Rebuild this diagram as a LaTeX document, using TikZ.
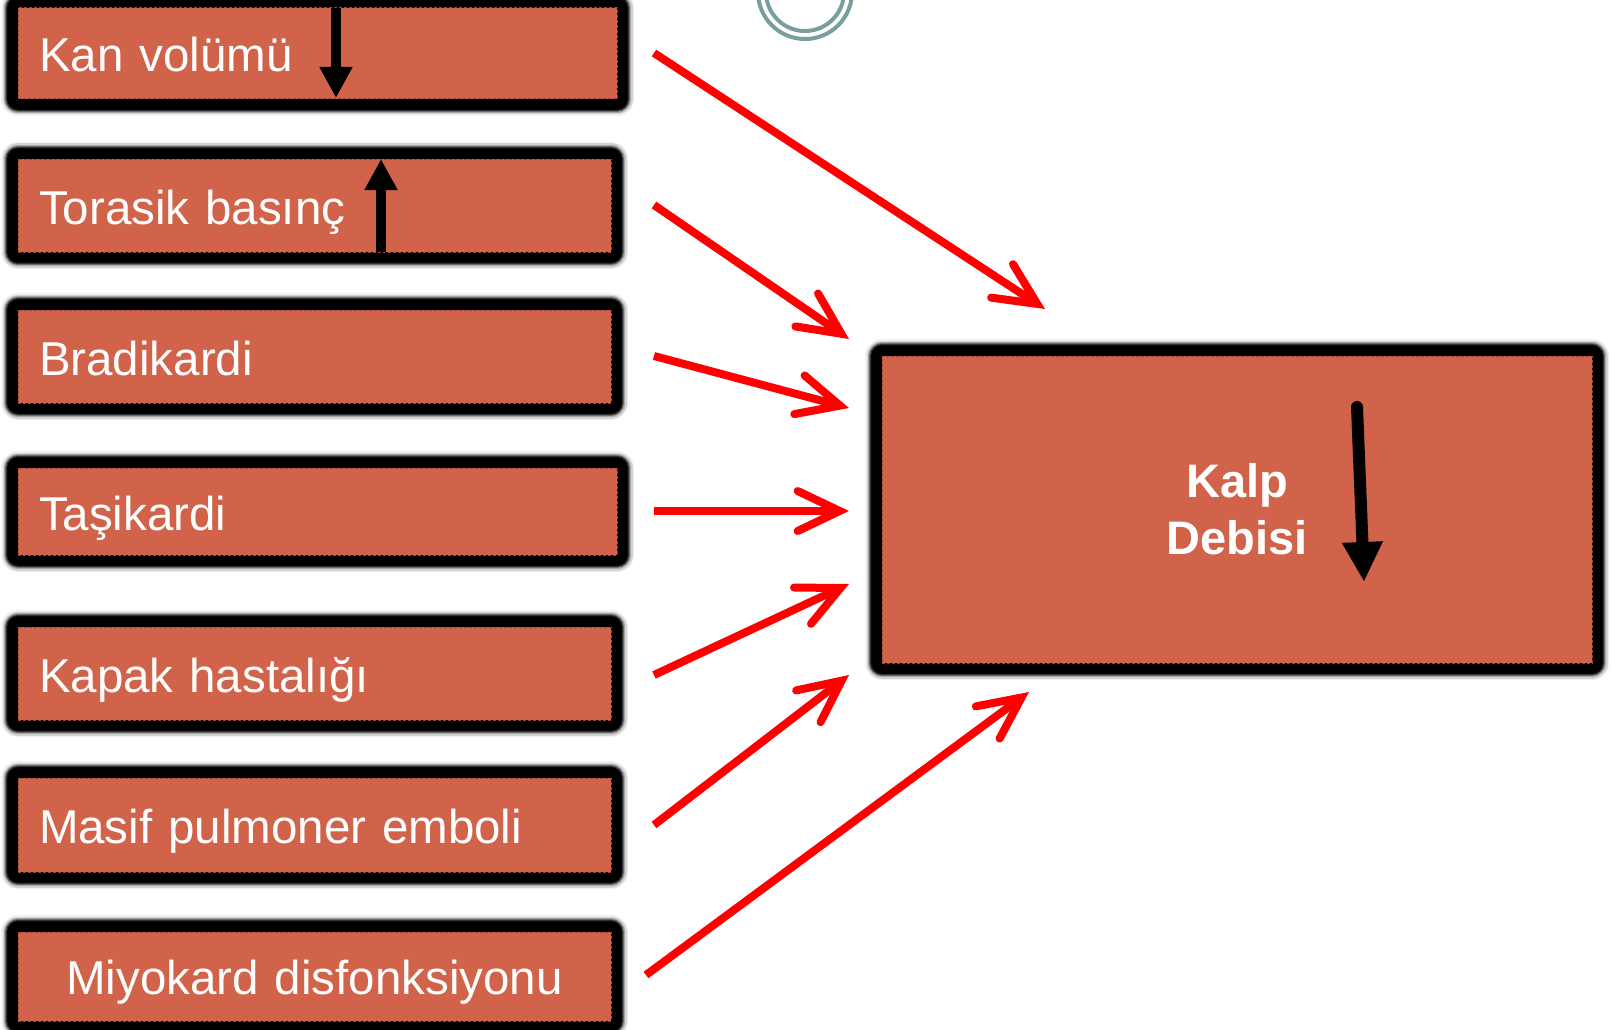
\documentclass[tikz,border=0pt]{standalone}
\usepackage{fontspec}
\setmainfont{Liberation Sans}
\usetikzlibrary{arrows.meta}
\definecolor{boxfill}{HTML}{D06349}
\definecolor{boxedge}{HTML}{9C4430}
\definecolor{ringc}{HTML}{7A9E9C}
\definecolor{arrred}{HTML}{FF0000}
\tikzset{
  framed/.style={rectangle, fill=boxfill, draw=boxedge, line width=1pt,
    dash pattern=on 3pt off 2pt, inner ysep=0pt,
    preaction={draw=black, opacity=0.06, line width=34pt, line join=round, solid},
    preaction={draw=black, opacity=0.12, line width=31pt, line join=round, solid},
    preaction={draw=black, opacity=0.22, line width=28pt, line join=round, solid},
    preaction={draw=black, opacity=0.35, line width=26pt, line join=round, solid},
    preaction={draw=black, opacity=0.55, line width=24pt, line join=round, solid},
    preaction={draw=black, opacity=0.8, line width=22pt, line join=round, solid},
    preaction={draw=black, line width=20pt, line join=round, solid}},
  leftbox/.style={framed, text=white, align=left, inner xsep=21pt,
    font=\fontsize{47.5}{55}\selectfont, text height=37pt, text depth=0pt},
  centerbox/.style={framed, text=white, align=center, inner xsep=0pt,
    font=\fontsize{47.5}{55}\selectfont, text height=35pt, text depth=0pt},
  redarrow/.style={draw=arrred, line width=8pt,
    -{Straight Barb[length=42pt,width=40pt,line cap=round]}},
  blackarrow/.style={draw=black, line width=10pt,
    -{Triangle[length=31pt,width=31pt]}},
  ring/.style={draw=ringc, line width=4pt}
}
\begin{document}
\begin{tikzpicture}[x=1pt,y=-1pt]
\useasboundingbox (0,0) rectangle (1611,1030);
% decorative rings at the top
\draw[ring] (805,-8) circle[radius=47];
\draw[ring] (805,-8) circle[radius=39];
% left boxes
\node[leftbox, minimum width=599pt, minimum height=91pt, text width=557pt] (b1) at (317.5,53.5) {Kan volümü};
\node[leftbox, minimum width=593pt, minimum height=93pt, text width=551pt] (b2) at (314.5,205.5) {Torasik basınç};
\node[leftbox, minimum width=593pt, minimum height=93pt, text width=551pt] (b3) at (314.5,356.5) {Bradikardi};
\node[leftbox, minimum width=599pt, minimum height=87pt, text width=557pt] (b4) at (317.5,511.5) {Taşikardi};
\node[leftbox, minimum width=593pt, minimum height=93pt, text width=551pt] (b5) at (314.5,673.5) {Kapak hastalığı};
\node[leftbox, minimum width=593pt, minimum height=94pt, text width=551pt] (b6) at (314.5,825) {Masif pulmoner emboli};
\node[centerbox, minimum width=593pt, minimum height=89pt, text width=593pt] (b7) at (314.5,976.5) {Miyokard disfonksiyonu};
% big box
\node[framed, text=white, align=center, font=\fontsize{47}{57}\selectfont\bfseries,
  minimum width=710pt, minimum height=307pt] (kd) at (1237,509.5) {Kalp\\Debisi};
% arrows inside boxes
\coordinate (k1) at (336,8);   \coordinate (k2) at (336,98);
\coordinate (t1) at (381,252); \coordinate (t2) at (381,159);
\coordinate (d1) at (1357,407); \coordinate (d2) at (1364,582);
\draw[blackarrow] (k1) -- (k2);
\draw[blackarrow] (t1) -- (t2);
\draw[draw=black, line width=12pt, line cap=round, -{Triangle[length=40pt,width=38pt]}] (d1) -- (d2);
% red arrows
\coordinate (s1) at (654,53);  \coordinate (e1) at (1045,309);
\coordinate (s2) at (654,205); \coordinate (e2) at (849,339);
\coordinate (s3) at (654,356); \coordinate (e3) at (849,408);
\coordinate (s4) at (654,511); \coordinate (e4) at (849,511);
\coordinate (s5) at (654,675); \coordinate (e5) at (849,584);
\coordinate (s6) at (654,825); \coordinate (e6) at (849,675);
\coordinate (s7) at (646,975); \coordinate (e7) at (1029,692);
\foreach \i in {1,...,7} { \draw[redarrow] (s\i) -- (e\i); }
\end{tikzpicture}
\end{document}
